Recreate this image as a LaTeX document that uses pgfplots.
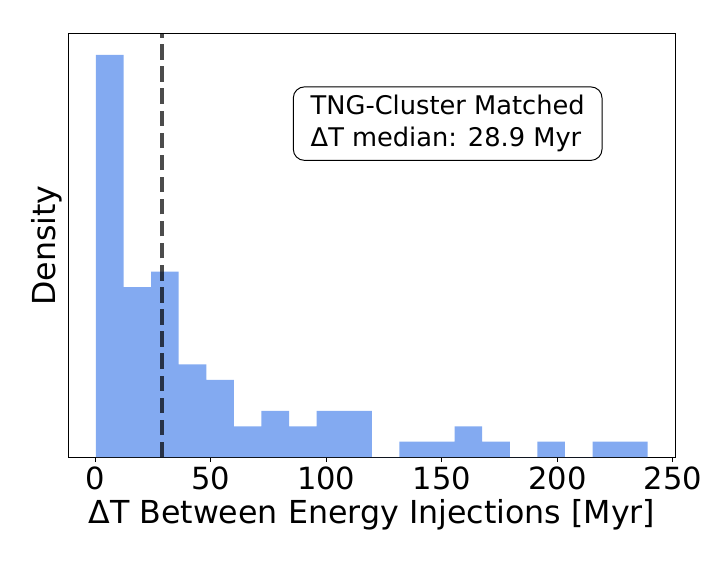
\documentclass[border=0pt]{standalone}
\usepackage{pgfplots}
\pgfplotsset{compat=1.18}
\usepackage{fontspec}
\setmainfont{DejaVu Sans}
\definecolor{barblue}{RGB}{131,170,241}
\begin{document}
\begin{tikzpicture}
\useasboundingbox (0,0) rectangle (511.2pt,408.96pt);
\begin{axis}[
  at={(49.2pt,79.76pt)}, anchor=south west,
  scale only axis, width=437pt, height=304.8pt,
  xmin=-11.64, xmax=251.04, ymin=0, ymax=27.36,
  xtick={0,50,100,150,200,250},
  ytick=\empty,
  xtick pos=bottom, tick align=outside,
  major tick length=3.5pt,
  every tick/.style={black, line width=0.6pt},
  axis line style={line width=0.6pt},
  /pgf/number format/assume math mode=true,
  ticklabel style={font=\fontsize{22}{26}\selectfont},
  xlabel={ΔT Between Energy Injections [Myr]},
  ylabel={Density},
  label style={font=\fontsize{22.8}{27}\selectfont},
  xlabel style={at={(axis description cs:0.5,0)}, anchor=north, yshift=-27pt},
  ylabel style={at={(axis description cs:0,0.5)}, anchor=south, yshift=1pt},
  clip=true,
]
\addplot[ybar interval=1, fill=barblue, draw=none] coordinates {
(0.3,26) (12.24,11) (24.18,12) (36.12,6) (48.06,5) (60.0,2) (71.94,3)
(83.88,2) (95.82,3) (107.76,3) (119.7,0) (131.64,1) (143.58,1) (155.52,2)
(167.46,1) (179.4,0) (191.34,1) (203.28,0) (215.22,1) (227.16,1) (239.1,1)
};
\addplot[black, opacity=0.7, line width=3pt, dash pattern=on 11.1pt off 4.8pt] coordinates {(28.9,0) (28.9,27.36)};
\node[draw=black, line width=0.7pt, rounded corners=8pt, fill=white, align=left,
  inner xsep=12.5pt, inner ysep=6pt, font=\fontsize{18.5}{23}\selectfont]
  at (rel axis cs:0.625,0.788) {TNG-Cluster Matched\\ΔT median: 28.9 Myr};
\end{axis}
\end{tikzpicture}
\end{document}
